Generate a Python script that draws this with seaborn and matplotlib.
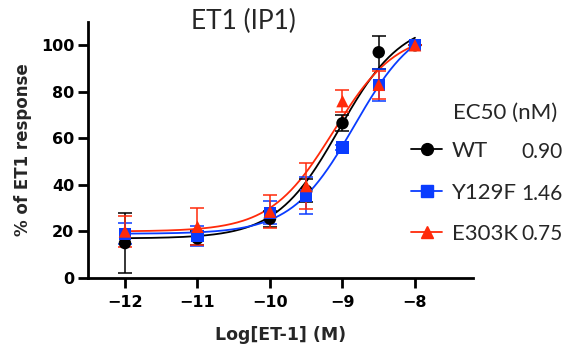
import numpy as np
import pandas as pd
import matplotlib
matplotlib.use("Agg")
import matplotlib.pyplot as plt
from matplotlib.lines import Line2D
import seaborn as sns

# concentrations (log M)
log_conc = [-12, -11, -10, -9.5, -9, -8.5, -8]

# mean response (% of ET1 response) and SEM
wt_mean = [15, 17, 25.5, 37.5, 66.5, 97, 100]
wt_sem = [13, 3, 3.5, 5, 3.5, 7, 0]
y129f_mean = [19, 18, 28, 35.5, 56, 83, 100]
y129f_sem = [4.5, 4.3, 5, 8, 1, 7, 0]
e303k_mean = [20, 22, 28.5, 39.5, 76, 83, 100]
e303k_sem = [6.6, 8, 7, 9.7, 4.7, 6, 0]

variants = ["WT", "Y129F", "E303K"]
ec50_nm = [0.90, 1.46, 0.75]
ec50_text = ["0.90", "1.46", "0.75"]
# fitted bottom / top plateaus of the dose-response curves
fit_bottom = [17, 19, 20]
fit_top = [111, 112, 106]

colors = {"WT": "black", "Y129F": "#0A3CFF", "E303K": "#FF2A0A"}
markers = {"WT": "o", "Y129F": "s", "E303K": "^"}

means = {"WT": wt_mean, "Y129F": y129f_mean, "E303K": e303k_mean}
sems = {"WT": wt_sem, "Y129F": y129f_sem, "E303K": e303k_sem}

points = pd.concat([
    pd.DataFrame({"logc": log_conc, "resp": means[v], "sem": sems[v], "variant": v})
    for v in variants
])

# fitted curves (hill slope 1)
xfit = np.linspace(-12, -8, 200)
curves = []
for v, ec, b, t in zip(variants, ec50_nm, fit_bottom, fit_top):
    logec = np.log10(ec * 1e-9)
    yfit = b + (t - b) / (1 + 10 ** (logec - xfit))
    curves.append(pd.DataFrame({"logc": xfit, "resp": yfit, "variant": v}))
curves = pd.concat(curves)

sns.set_style("ticks")
plt.rcParams["font.family"] = ["DejaVu Sans"]

fig = plt.figure(figsize=(5.71, 3.51), dpi=100)
ax = fig.add_axes([88 / 571, 1 - 278 / 351, (473 - 88) / 571, (278 - 22) / 351])

sns.lineplot(data=curves, x="logc", y="resp", hue="variant", palette=colors,
             hue_order=variants, linewidth=1.3, legend=False, ax=ax)

for v in variants:
    d = points[points["variant"] == v]
    ax.errorbar(d["logc"], d["resp"], yerr=d["sem"], fmt="none",
                ecolor=colors[v], elinewidth=1.1, capsize=5, capthick=1.1, zorder=3)

sns.scatterplot(data=points, x="logc", y="resp", hue="variant", style="variant",
                palette=colors, markers=markers, hue_order=variants,
                style_order=variants, s=80, edgecolor="none", legend=False,
                ax=ax, zorder=4)

ax.set_xlim(-12.51, -7.2)
ax.set_ylim(0, 110)
ax.set_xticks([-12, -11, -10, -9, -8])
ax.set_yticks([0, 20, 40, 60, 80, 100])
for s in ["top", "right"]:
    ax.spines[s].set_visible(False)
for s in ["left", "bottom"]:
    ax.spines[s].set_linewidth(2)
    ax.spines[s].set_color("black")
ax.tick_params(width=2, length=7, labelsize=11.5, colors="black", pad=3)
ax.tick_params(axis="x", pad=5)
for lab in ax.get_xticklabels() + ax.get_yticklabels():
    lab.set_fontweight("bold")

ax.set_xlabel("Log[ET-1] (M)", fontsize=12.5, fontweight="bold", labelpad=12)
ax.set_ylabel("% of ET1 response", fontsize=12, fontweight="bold", labelpad=6)

fig.text(243 / 571, 1 - 21 / 351, "ET1 (IP1)", family=["Lato", "DejaVu Sans"],
         fontsize=19, ha="center", va="center")

handles = [Line2D([], [], color=colors[v], marker=markers[v], markersize=8.5,
                  linewidth=1.3) for v in variants]
leg = fig.legend(handles, variants, loc="upper left",
                 bbox_to_anchor=(411 / 571, 1 - 141 / 351), frameon=False,
                 borderpad=0, borderaxespad=0,
                 handlelength=1.4, handletextpad=0.45, labelspacing=0.97,
                 prop={"family": "Lato", "size": 16})

fig.text(453 / 571, 1 - 113 / 351, "EC50 (nM)", family=["Lato", "DejaVu Sans"],
         fontsize=16, ha="left", va="center")
for txt, yc in zip(ec50_text, [152, 194, 234]):
    fig.text(563 / 571, 1 - yc / 351, txt, family=["Lato", "DejaVu Sans"],
             fontsize=15, ha="right", va="center")

fig.savefig("out.png", dpi=100)
